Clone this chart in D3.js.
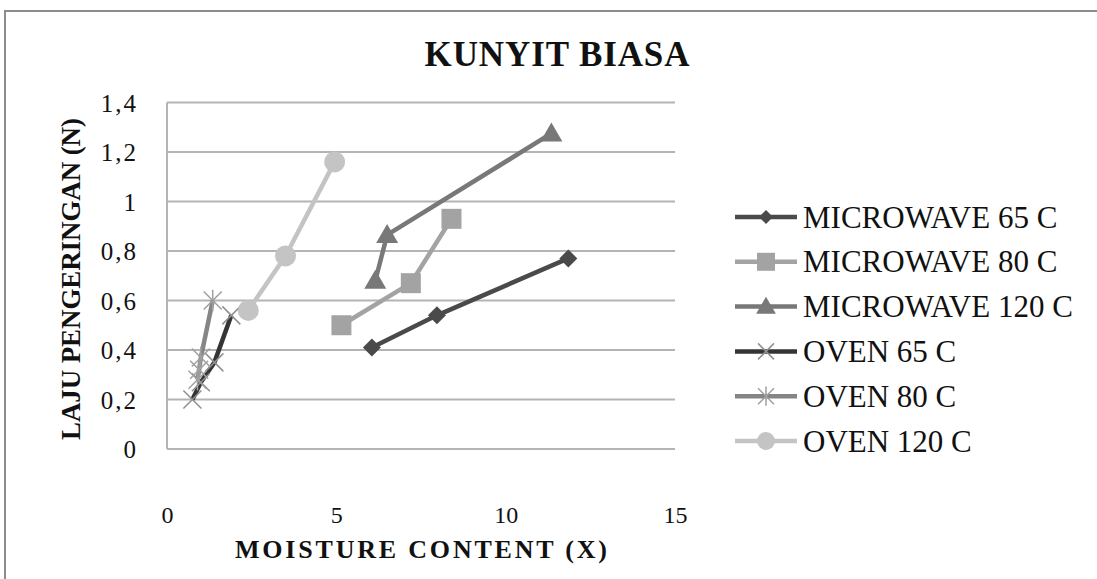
<!DOCTYPE html>
<html><head><meta charset="utf-8">
<script src="https://cdn.jsdelivr.net/npm/d3@7"></script>
</head><body style="margin:0">
<svg id="c" width="1097" height="579" font-family="Liberation Serif"></svg>
<script>
const title = "KUNYIT BIASA";
const xLabel = "MOISTURE CONTENT (X)";
const yLabel = "LAJU PENGERINGAN (N)";
const xTicks = [0, 5, 10, 15];
const yTicks = [0, 0.2, 0.4, 0.6, 0.8, 1, 1.2, 1.4];
const seriesNames = ["MICROWAVE 65 C","MICROWAVE 80 C","MICROWAVE 120 C","OVEN 65 C","OVEN 80 C","OVEN 120 C"];
const mw65X = [6.05, 7.97, 11.85];
const mw65Y = [0.41, 0.54, 0.77];
const mw80X = [5.15, 7.2, 8.4];
const mw80Y = [0.50, 0.67, 0.93];
const mw120X = [6.15, 6.5, 11.35];
const mw120Y = [0.68, 0.865, 1.275];
const ov65X = [0.75, 1.0, 1.4, 1.9];
const ov65Y = [0.20, 0.27, 0.35, 0.54];
const ov80X = [0.9, 0.95, 1.0, 1.35];
const ov80Y = [0.28, 0.32, 0.37, 0.60];
const ov120X = [2.4, 3.5, 4.95];
const ov120Y = [0.56, 0.78, 1.16];

const colors = ["#4a4a4a","#a3a3a3","#787878","#353535","#858585","#c4c4c4"];
const shapes = ["diamond","square","triangle","x","star","circle"];
const xs = [mw65X, mw80X, mw120X, ov65X, ov80X, ov120X];
const ys = [mw65Y, mw80Y, mw120Y, ov65Y, ov80Y, ov120Y];
const series = seriesNames.map((n,i)=>({name:n,color:colors[i],shape:shapes[i],pts:xs[i].map((x,j)=>({x,y:ys[i][j]}))}));

const svg = d3.select("#c");
const FF = "Liberation Serif";
svg.append("rect").attr("x",5).attr("y",11).attr("width",1100).attr("height",580)
  .attr("fill","#fff").attr("stroke","#8c8c8c").attr("stroke-width",2);

const L=167, R=675, T=102.5, B=449;
const x = d3.scaleLinear().domain([0,15]).range([L,R]);
const y = d3.scaleLinear().domain([0,1.4]).range([B,T]);

svg.append("g").selectAll("line").data(yTicks.slice(1)).join("line")
  .attr("x1",L).attr("x2",R).attr("y1",d=>y(d)).attr("y2",d=>y(d))
  .attr("stroke","#b4b4b4").attr("stroke-width",2);
svg.append("line").attr("x1",L).attr("x2",L).attr("y1",T).attr("y2",B).attr("stroke","#b4b4b4").attr("stroke-width",2);
svg.append("line").attr("x1",L).attr("x2",R).attr("y1",B).attr("y2",B).attr("stroke","#b4b4b4").attr("stroke-width",2);

const fmt = d=>String(d).replace(".",",");
const ya = svg.append("g").attr("transform",`translate(${L},0)`)
  .call(d3.axisLeft(y).tickValues(yTicks).tickFormat(fmt).tickSize(0).tickPadding(29));
ya.attr("font-family",FF).attr("font-size",25);
ya.select(".domain").remove();
ya.selectAll("text").attr("font-family",FF).style("font-family",'"Liberation Serif"').attr("font-size",25).attr("letter-spacing",2).attr("fill","#111").attr("dy","0.34em");
const xa = svg.append("g").attr("transform",`translate(0,${B})`)
  .call(d3.axisBottom(x).tickValues(xTicks).tickFormat(d=>d).tickSize(0).tickPadding(57));
xa.attr("font-family",FF).attr("font-size",24);
xa.select(".domain").remove();
xa.selectAll("text").attr("font-family",FF).style("font-family",'"Liberation Serif"').attr("font-size",24).attr("fill","#111");

svg.append("text").attr("x",557).attr("y",66).attr("text-anchor","middle")
  .attr("font-family",FF).style("font-family",'"Liberation Serif"').attr("font-weight","bold").attr("font-size",35).attr("fill","#111")
  .attr("textLength",265).attr("lengthAdjust","spacing").text(title);
svg.append("text").attr("x",421).attr("y",558).attr("text-anchor","middle")
  .attr("font-family",FF).style("font-family",'"Liberation Serif"').attr("font-weight","bold").attr("font-size",26).attr("fill","#111")
  .attr("textLength",372).attr("lengthAdjust","spacing").text(xLabel);
svg.append("text").attr("transform","translate(80,279) rotate(-90)").attr("text-anchor","middle")
  .attr("font-family",FF).style("font-family",'"Liberation Serif"').attr("font-weight","bold").attr("font-size",27).attr("fill","#111")
  .attr("textLength",322).attr("lengthAdjust","spacing").text(yLabel);

function marker(g, shape, color, s){
  if(shape==="diamond") g.append("path").attr("d",`M0,${-s}L${s},0L0,${s}L${-s},0Z`).attr("fill",color);
  else if(shape==="square") g.append("rect").attr("x",-s).attr("y",-s).attr("width",2*s).attr("height",2*s).attr("fill",color);
  else if(shape==="triangle") g.append("path").attr("d",`M0,${-s*1.1}L${s*1.1},${s*0.8}L${-s*1.1},${s*0.8}Z`).attr("fill",color);
  else if(shape==="circle") g.append("circle").attr("r",s).attr("fill",color);
  else if(shape==="x"){
    g.append("path").attr("d",`M${-s},${-s}L${s},${s}M${-s},${s}L${s},${-s}`).attr("stroke","#909090").attr("stroke-width",1.5);
  } else if(shape==="star"){
    g.append("path").attr("d",`M${-s},${-s}L${s},${s}M${-s},${s}L${s},${-s}M0,${-s*1.2}L0,${s*1.2}`).attr("stroke","#a0a0a0").attr("stroke-width",1.5);
  }
}
const sizes = {diamond:9,square:10,triangle:10,circle:10.5,x:9,star:9};
const line = d3.line().x(d=>x(d.x)).y(d=>y(d.y));
series.forEach(s=>{
  const g = svg.append("g");
  g.append("path").datum(s.pts).attr("d",line).attr("fill","none").attr("stroke",s.color).attr("stroke-width",4.5).attr("stroke-linejoin","round");
  s.pts.forEach(p=>marker(g.append("g").attr("transform",`translate(${x(p.x)},${y(p.y)})`),s.shape,s.color,sizes[s.shape]));
});

series.forEach((s,i)=>{
  const yy = 217 + i*44.8;
  svg.append("line").attr("x1",735).attr("x2",797).attr("y1",yy).attr("y2",yy).attr("stroke",s.color).attr("stroke-width",4.5);
  const sz = {diamond:7,square:9,triangle:9,circle:9,x:8,star:8}[s.shape];
  marker(svg.append("g").attr("transform",`translate(766,${yy})`),s.shape,s.color,sz);
  svg.append("text").attr("x",803).attr("y",yy).attr("dy","0.34em").attr("font-family",FF).style("font-family",'"Liberation Serif"').attr("font-size",31)
    .attr("fill","#111").text(s.name);
});
</script>
</body></html>
